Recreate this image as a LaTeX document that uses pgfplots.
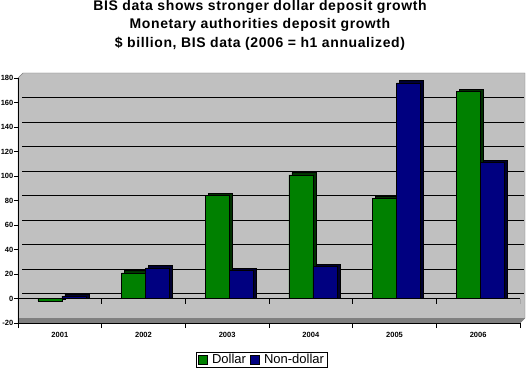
\documentclass[border=0pt]{standalone}
\usepackage{fontspec}
\setmainfont{Liberation Sans}
\newfontfamily\titlefont[LetterSpace=4.3]{Liberation Sans}
\usepackage{pgfplots}
\pgfplotsset{compat=1.18}
\definecolor{bg}{HTML}{C0C0C0}
\definecolor{frm}{HTML}{808080}
\definecolor{dgreen}{HTML}{008000}
\definecolor{navy}{HTML}{000080}
\definecolor{sgreen}{HTML}{003000}
\definecolor{snavy}{HTML}{000030}
\begin{document}
\begin{tikzpicture}[x=1pt,y=1pt]
\useasboundingbox (0,0) rectangle (526,370);
\node[align=center, font=\titlefont\fontsize{14}{18.5}\selectfont\bfseries] at (260,345) {BIS data shows stronger dollar deposit growth\\Monetary authorities deposit growth\\\$ billion, BIS data (2006 = h1 annualized)};
% walls
\filldraw[fill=bg, draw=frm] (18,292) -- (23,297) -- (525,297) -- (525,52) -- (520,47) -- (18,47) -- cycle;
\fill[frm] (18,47) -- (520,47) -- (525,52) -- (18,52) -- cycle;
\begin{axis}[
 at={(18pt,47pt)}, anchor=south west,
 scale only axis, width=502pt, height=245pt,
 xmin=-0.5, xmax=5.5, ymin=-20, ymax=180,
 ybar, bar width=24pt,
 axis lines=left, axis line style={-, black, line width=0.7pt},
 xtick={0,...,5}, xticklabels={2001,2002,2003,2004,2005,2006},
 major x tick style={draw=none},
 minor xtick={-0.5,0.5,...,5.5}, minor tick length=5pt,
 ytick={-20,0,...,180}, tick align=outside, major tick length=4pt,
 tick style={black, line width=0.7pt},
 extra y ticks={0,20,...,160}, extra y tick labels={},
 extra y tick style={grid=major, major tick length=0pt},
 grid style={black, line width=0.7pt, xshift=4pt, yshift=5pt},
 /pgf/number format/assume math mode=true,
 tick label style={font=\fontsize{7.5}{8}\selectfont\bfseries},
 yticklabel style={inner xsep=0.5pt},
 xticklabel style={yshift=-2pt},
 legend style={at={(axis description cs:0.4851,-0.151)}, anchor=center,
   draw=black, font=\fontsize{13}{13}\selectfont, legend columns=2,
   /tikz/every even column/.append style={column sep=1pt},
   inner xsep=1pt, inner ysep=0pt},
 legend image code/.code={\draw[#1, draw=black] (0pt,-4.5pt) rectangle (9pt,4.5pt); \path[draw=none, fill=none] (-1pt,0pt) -- (12pt,0pt);},
]
\draw[black, line width=0.7pt] (axis cs:-0.5,0) -- (axis cs:5.5,0);
\pgfplotsinvokeforeach{0.5,1.5,2.5,3.5,4.5,5.5}{\draw[black, line width=0.7pt] (axis cs:#1,0) -- ([yshift=-5pt]axis cs:#1,0);}
\addplot[fill=sgreen, draw=black, bar shift=-7pt, forget plot] coordinates {(0,-0.2) (1,22.8) (2,85.8) (3,102.8) (4,83.8) (5,170.8)};
\addplot[fill=dgreen, draw=black, bar shift=-10pt] coordinates {(0,-2) (1,21) (2,84) (3,101) (4,82) (5,169)};
\addplot[fill=snavy, draw=black, bar shift=17pt, forget plot] coordinates {(0,3.8) (1,26.8) (2,24.8) (3,27.8) (4,177.8) (5,112.8)};
\addplot[fill=navy, draw=black, bar shift=14pt] coordinates {(0,2) (1,25) (2,23) (3,26) (4,176) (5,111)};
\legend{Dollar,Non-dollar}
\end{axis}
\end{tikzpicture}
\end{document}
